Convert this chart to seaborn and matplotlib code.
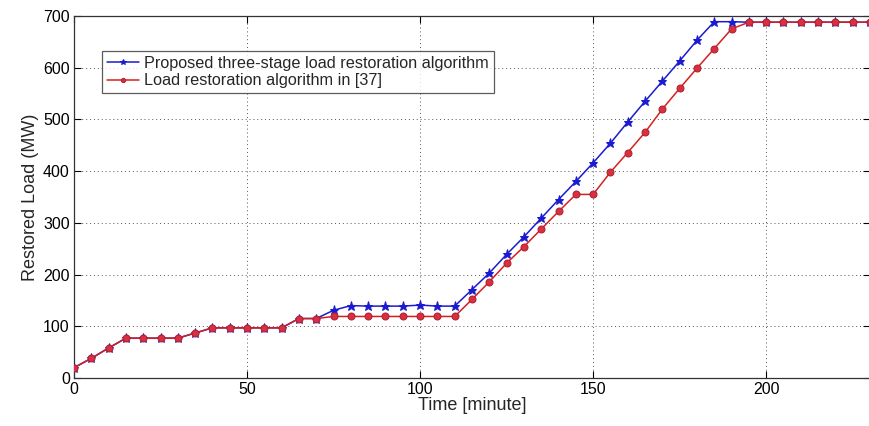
import matplotlib
matplotlib.use("Agg")
import matplotlib.pyplot as plt
import seaborn as sns
import pandas as pd

time_min = [0, 5, 10, 15, 20, 25, 30, 35, 40, 45, 50, 55, 60, 65, 70, 75, 80, 85, 90, 95,
            100, 105, 110, 115, 120, 125, 130, 135, 140, 145, 150, 155, 160, 165, 170, 175,
            180, 185, 190, 195, 200, 205, 210, 215, 220, 225, 230]
proposed = [20, 38, 58, 77, 77, 77, 77, 87, 97, 97, 97, 97, 97, 115, 115, 131, 140, 139, 139, 139,
            141, 139, 139, 171, 203, 239, 273, 309, 345, 380, 416, 454, 495, 535, 574, 613,
            653, 689, 689, 688, 688, 688, 688, 688, 688, 688, 688]
reference = [20, 38, 58, 77, 77, 77, 77, 87, 97, 97, 97, 97, 97, 115, 115, 119, 119, 119, 119, 119,
             119, 119, 119, 152, 186, 222, 254, 288, 322, 355, 355, 398, 436, 475, 520, 560,
             599, 637, 675, 688, 688, 688, 688, 688, 688, 688, 688]
series_names = ["Proposed three-stage load restoration algorithm",
                "Load restoration algorithm in [37]"]
x_ticks = [0, 50, 100, 150, 200]
y_ticks = [0, 100, 200, 300, 400, 500, 600, 700]

df = pd.DataFrame({
    "Time": time_min * 2,
    "Load": proposed + reference,
    "Series": [series_names[0]] * len(time_min) + [series_names[1]] * len(time_min),
})

sns.set_style("white")
plt.rcParams["font.family"] = ["Liberation Sans", "DejaVu Sans"]

fig = plt.figure(figsize=(8.7, 4.26), dpi=100)
ax = fig.add_axes([74 / 870, 48 / 426, 796 / 870, 362 / 426])

blue = "#1a1ad0"
red = "#d42020"

sns.lineplot(data=df[df.Series == series_names[0]], x="Time", y="Load", ax=ax,
             color=blue, lw=1.1, marker="*", markersize=6.5, markeredgecolor=blue,
             markerfacecolor=blue, label=series_names[0], zorder=3)
sns.lineplot(data=df[df.Series == series_names[1]], x="Time", y="Load", ax=ax,
             color=red, lw=1.1, marker="o", markersize=5, markeredgecolor="#b02030",
             markerfacecolor="#d83040", label=series_names[1], zorder=4)

ax.set_xlim(0, 230)
ax.set_ylim(0, 700)
ax.set_xticks(x_ticks)
ax.set_yticks(y_ticks)
ax.grid(True, linestyle=(0, (1, 3)), color="#555555", linewidth=0.7)
ax.tick_params(direction="in", length=5, labelsize=11.5, colors="black", pad=3,
               top=True, right=True, bottom=True, left=True)
for s in ax.spines.values():
    s.set_color("#333333")
    s.set_linewidth(0.9)
ax.set_xlabel("Time [minute]", fontsize=13, labelpad=0)
ax.set_ylabel("Restored Load (MW)", fontsize=13, labelpad=3)

leg = ax.legend(loc="upper left", bbox_to_anchor=(0.035, 0.903), borderaxespad=0,
                fontsize=11.7, frameon=True, fancybox=False, handlelength=2.0,
                handletextpad=0.3, borderpad=0.3, labelspacing=0.15, markerscale=0.6)
leg.get_frame().set_edgecolor("#333333")
leg.get_frame().set_linewidth(0.9)

fig.savefig("out.png", dpi=100)
